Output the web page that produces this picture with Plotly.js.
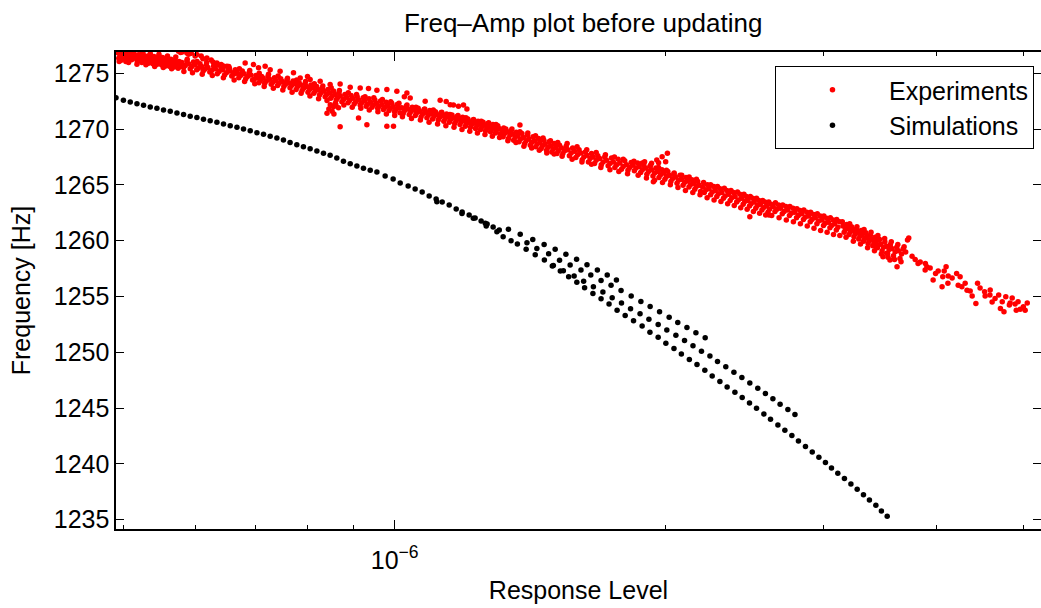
<!DOCTYPE html>
<html>
<head>
<meta charset="utf-8">
<script src="https://cdn.plot.ly/plotly-3.0.1.min.js"></script>
<style>html,body{margin:0;padding:0;background:#fff;}</style>
</head>
<body>
<div id="chart" style="width:1041px;height:608px;"></div>
<script>
// Response level values are given in units of 1e-6.
const UNIT = 1e-6;

const expX = [
  0.492,0.4935,0.495,0.4965,0.498,0.4995,0.501,0.5025,0.504,0.5055,
  0.507,0.5085,0.510,0.5115,0.513,0.5145,0.516,0.5175,0.519,0.5205,
  0.522,0.5235,0.525,0.5265,0.528,0.5295,0.531,0.5325,0.534,0.5355,
  0.537,0.5385,0.540,0.5415,0.543,0.5445,0.546,0.5475,0.549,0.5505,
  0.552,0.5535,0.555,0.5565,0.558,0.5595,0.561,0.5625,0.564,0.5655,
  0.567,0.5685,0.570,0.5715,0.573,0.5745,0.576,0.5775,
  0.575,0.5805,0.5875,0.594,0.6027,0.6094,0.6183,0.6252,0.6344,0.6414,
  0.6509,0.6619,0.6734,0.578,0.590,0.600,0.612,0.628,0.645,0.655,0.668,
  0.580,0.5825,0.585,0.5875,0.590,0.5925,0.595,0.5975,0.600,0.6025,
  0.605,0.6075,0.610,0.6125,0.615,0.6175,0.620,0.623,0.626,0.629,
  0.632,0.635,0.638,0.641,0.644,0.647,0.650,0.653,0.656,0.659,
  0.662,0.665,0.668,0.671,0.674,0.677,0.680,0.683,0.686,0.689,
  0.692,0.695,0.698,0.701,0.704,0.7065,0.709,0.7115,
  0.6820,0.6967,0.7057,0.7178,0.7271,0.7458,0.7718,0.7852,0.8054,0.8264,
  0.8477,0.8697,0.8924,0.9155,0.9352,0.9555,0.9802,1.0056,1.0318,1.0405,
  1.0812,1.1234,1.1527,1.1774,1.2031,1.1623,1.1926,1.1409,0.800,1.025,
  0.714,0.717,0.720,0.723,0.726,0.729,0.732,0.735,0.738,0.741,
  0.744,0.747,0.750,0.753,0.756,0.759,0.762,0.765,0.768,0.771,
  0.774,0.777,0.780,0.783,0.786,0.789,0.792,0.795,0.798,0.801,
  0.804,0.807,0.810,0.813,0.816,0.819,0.822,0.825,0.828,0.831,
  0.834,0.837,0.840,0.843,0.846,0.849,0.852,0.855,0.858,0.861,
  0.864,0.867,0.870,0.8735,0.877,0.8805,0.884,0.8875,0.891,0.8945,
  0.898,0.9015,0.905,0.9085,0.912,0.9155,0.919,0.9225,0.926,0.9295,
  0.933,0.9365,0.940,0.9435,0.947,0.9505,0.954,0.9575,0.961,0.9645,
  0.968,0.9715,0.975,0.9785,0.982,0.9855,0.989,0.9925,0.996,0.9995,
  1.003,1.0065,1.010,1.0135,
  0.8409,0.8551,0.8697,0.9116,0.9313,0.9802,0.9969,0.848,0.845,0.852,0.860,0.866,0.856,
  1.018,1.022,1.026,1.030,1.034,1.038,1.042,1.046,1.050,1.054,
  1.058,1.062,1.066,1.070,1.074,1.078,1.082,1.086,1.090,1.094,
  1.098,1.102,1.106,1.110,1.114,1.118,1.122,1.126,1.130,1.134,
  1.138,1.142,1.146,1.150,1.154,1.158,1.162,1.166,1.170,1.174,
  1.178,1.182,1.186,1.190,1.194,1.198,1.202,1.206,1.210,1.214,
  1.218,1.222,1.226,1.230,1.234,1.238,1.242,1.246,1.250,1.254,
  1.258,1.262,1.266,1.270,1.274,1.278,1.282,1.286,1.290,1.294,
  1.298,1.302,1.306,1.310,
  1.316,1.320,1.325,1.329,1.334,1.338,1.343,1.347,1.352,1.356,
  1.361,1.365,1.370,1.375,1.380,1.385,1.390,1.395,1.400,1.405,
  1.410,1.415,1.420,1.425,1.430,1.435,1.440,1.445,1.450,1.455,
  1.460,1.465,1.470,1.475,1.480,1.485,1.490,1.495,1.500,1.505,
  1.510,1.515,1.520,1.525,1.378,
  1.532,1.538,1.545,1.551,1.558,1.564,1.571,1.577,1.584,1.590,
  1.597,1.603,1.610,1.616,1.623,1.629,1.636,1.642,1.649,1.655,
  1.662,1.668,1.675,1.682,1.690,1.697,1.705,1.712,1.720,1.727,
  1.735,1.742,1.750,1.757,1.765,1.772,1.780,1.787,1.795,1.802,
  1.810,1.817,1.825,1.832,
  1.840,1.847,1.855,1.862,1.870,1.877,1.885,1.892,1.900,1.907,
  1.915,1.922,1.930,1.937,1.945,1.952,1.960,1.967,1.975,1.982,
  1.990,1.997,2.005,2.012,2.020,2.028,2.036,2.044,2.052,2.060,
  2.068,2.076,2.084,2.092,2.100,2.108,2.116,2.124,2.132,2.140,
  2.148,2.156,2.164,2.172,2.180,2.188,
  1.896,1.930,1.956,1.983,2.010,2.001,1.965,1.939,
  2.200,2.209,2.218,2.227,2.236,2.245,2.254,2.263,2.272,2.281,
  2.290,2.300,2.310,2.320,2.330,2.340,2.350,2.360,2.370,2.380,
  2.390,2.400,2.410,2.420,2.430,2.440,2.450,2.460,2.470,2.480,
  2.490,2.500,2.510,2.520,2.530,2.540,2.550,2.560,2.570,2.580,
  2.590,2.600,2.610,2.620,2.482,2.607,
  2.635,2.647,2.660,2.672,2.685,2.697,2.710,2.722,2.735,2.747,
  2.760,2.772,2.785,2.797,2.810,2.822,2.835,2.847,2.860,2.872,
  2.885,2.897,2.910,2.922,2.935,2.947,2.960,2.972,2.985,2.997,
  3.010,3.022,3.035,3.047,3.060,3.072,3.085,3.097,3.110,3.122,
  3.150,3.160,3.170,3.180,3.190,3.200,3.210,3.220,3.230,3.240,
  3.250,3.260,3.270,3.280,3.290,3.300,3.310,3.320,3.330,3.340,
  3.350,3.360,3.370,3.380,3.390,3.400,3.410,3.420,3.430,3.440,
  3.450,3.460,3.470,3.482,3.495,3.507,3.520,3.532,3.545,3.557,
  3.570,3.585,3.600,3.615,3.630,3.645,3.660,3.675,
  3.684,3.716,3.699,3.618,3.553,3.523,3.490,3.428,3.368,3.307,3.728,
  3.818,3.905,3.890,3.993,4.067,4.102,4.121,4.060,4.214,4.252,
  4.271,4.328,4.446,4.527,4.589,4.427,4.650,4.693,4.736,4.779,
  4.714,4.823,4.932,4.909,4.999,5.022,4.757,
  3.938,4.020,3.968,4.166,4.231,4.307,4.363,4.385,4.475,4.533,
  4.615,4.858,4.895,4.959,5.049,4.833,4.592,4.124,4.082,3.839,3.888,
  3.760,3.790,
  0.494,0.500,0.506,0.511,0.517,0.523,0.529,0.535,0.541,0.547,0.553,0.559,0.565,0.571,
  0.583,0.588,0.596,0.603,0.611,0.618,0.627,0.636,0.645,0.654,0.663,0.672,0.681,0.690,0.699,0.707,
  0.716,0.724,0.733,0.742,0.751,0.760,0.769,0.778,0.787,0.796,
  0.805,0.814,0.823,0.832,0.841,0.850,0.859,0.868,0.878,0.888,
  0.897,0.907,0.917,0.927,0.937,0.948,0.958,0.969,0.979,0.990,1.000,1.011,
  1.020,1.032,1.044,1.056,1.068,1.080,1.092,1.104,1.116,1.128,
  1.140,1.152,1.164,1.176,1.188,1.200,1.212,1.224,1.236,1.248,
  1.260,1.272,1.284,1.296,1.308,
  1.322,1.336,1.350,1.364,1.378,1.392,1.406,1.420,1.434,1.448,1.462,1.476,1.490,1.504,1.518,
  1.535,1.555,1.575,1.595,1.615,1.635,1.655,1.675,1.695,1.715,1.735,1.755,1.775,1.795,1.815,
  1.845,1.865,1.885,1.905,1.925,1.945,1.965,1.985,2.005,2.025,
  2.045,2.065,2.085,2.105,2.125,2.145,2.165,2.185,
  2.205,2.225,2.245,2.265,2.285,2.305,2.325,2.345,2.365,2.385,
  2.405,2.425,2.445,2.465,2.485,2.505,2.525,2.545,2.565,2.585,2.605,
  2.625,2.650,2.675,2.700,2.725,2.750,2.775,2.800,2.825,2.850,
  2.875,2.900,2.925,2.950,2.975,3.000,3.025,3.050,3.075,3.100,3.125,
  3.145,3.175,3.205,3.235,3.265,3.295,3.325,3.355,3.385,3.415,
  3.445,3.475,3.505,3.535,3.565,3.595,3.625,3.655
];

const expY = [
  1276.85,1276.35,1276.60,1276.15,1276.80,1276.40,1276.50,1276.05,1276.70,1276.25,
  1276.45,1276.85,1276.20,1276.60,1276.75,1276.35,1276.50,1276.05,1276.65,1276.20,
  1276.40,1275.95,1276.80,1276.25,1276.55,1276.10,1276.30,1275.90,1276.60,1276.15,
  1276.35,1275.85,1276.50,1276.05,1276.25,1275.80,1276.45,1275.95,1276.15,1275.75,
  1276.40,1275.90,1276.10,1275.65,1276.30,1275.85,1276.05,1275.60,1276.25,1275.75,
  1275.95,1275.55,1276.15,1275.70,1275.90,1275.45,1276.05,1275.60,
  1276.97,1276.91,1276.82,1276.78,1276.67,1276.55,1276.37,1276.19,1275.92,1275.79,
  1275.63,1275.03,1274.87,1276.85,1276.70,1276.55,1276.30,1276.00,1275.65,1275.45,1275.00,
  1275.95,1275.50,1275.70,1276.10,1275.85,1275.40,1275.60,1276.00,1275.75,1275.30,
  1275.45,1275.85,1275.60,1275.20,1275.35,1275.75,1275.50,1275.10,1275.25,1275.65,
  1275.40,1274.95,1275.15,1275.50,1275.30,1274.85,1275.05,1275.40,1275.20,1274.75,
  1274.90,1275.30,1275.05,1274.60,1274.80,1275.20,1274.95,1274.50,1274.70,1275.05,
  1274.85,1274.40,1274.45,1274.80,1274.60,1274.15,1274.35,1274.70,
  1275.92,1275.77,1275.48,1275.63,1275.32,1275.18,1275.03,1274.58,1274.43,1274.28,
  1273.98,1274.04,1273.74,1273.68,1273.62,1273.48,1273.53,1273.39,1273.23,1272.78,
  1272.49,1272.58,1272.18,1272.04,1271.80,1272.16,1272.16,1272.47,1274.70,1272.89,
  1274.55,1274.10,1274.30,1274.70,1274.45,1274.00,1274.20,1274.60,1274.35,1273.90,
  1274.10,1274.50,1274.25,1273.80,1274.00,1274.40,1274.15,1273.70,1273.90,1274.30,
  1274.05,1273.55,1273.80,1274.15,1273.95,1273.45,1273.65,1274.05,1273.80,1273.30,
  1273.55,1273.95,1273.70,1273.20,1273.40,1273.80,1273.55,1273.05,1273.25,1273.65,
  1273.40,1272.90,1273.10,1273.55,1273.25,1272.75,1272.95,1273.40,1273.10,1272.60,
  1272.80,1273.25,1272.95,1272.45,1272.65,1273.10,1272.85,1272.35,1272.55,1273.00,
  1272.75,1272.25,1272.45,1272.90,1272.60,1272.15,1272.35,1272.80,1272.50,1272.05,
  1272.25,1272.70,1272.40,1271.95,1272.15,1272.60,1272.30,1271.85,1272.05,1272.50,
  1272.20,1271.75,1271.95,1272.40,1272.10,1271.65,1271.85,1272.30,1272.00,1271.55,
  1271.75,1272.20,1271.90,1271.45,
  1271.41,1272.00,1270.21,1270.99,1270.39,1270.25,1270.25,1272.18,1271.80,1271.60,1272.20,1271.90,1271.35,
  1271.90,1271.40,1271.65,1272.05,1271.80,1271.30,1271.55,1271.95,1271.70,1271.20,
  1271.45,1271.85,1271.60,1271.10,1271.35,1271.75,1271.50,1271.00,1271.25,1271.65,
  1271.40,1270.90,1271.15,1271.55,1271.30,1270.80,1271.05,1271.45,1271.20,1270.70,
  1270.95,1271.35,1271.10,1270.60,1270.85,1271.25,1271.00,1270.50,1270.75,1271.15,
  1270.90,1270.40,1270.65,1271.05,1270.75,1270.25,1270.50,1270.90,1270.65,1270.15,
  1270.40,1270.80,1270.55,1270.05,1270.30,1270.70,1270.45,1269.95,1270.20,1270.60,
  1270.35,1269.85,1270.10,1270.50,1270.25,1269.75,1270.00,1270.40,1270.15,1269.65,
  1269.90,1270.30,1270.05,1269.55,
  1269.85,1269.30,1269.60,1270.00,1269.75,1269.15,1269.45,1269.85,1269.55,1269.00,
  1269.25,1269.70,1269.40,1268.85,1269.10,1269.60,1269.25,1268.70,1268.95,1269.45,
  1269.10,1268.55,1268.80,1269.30,1268.95,1268.40,1268.65,1269.15,1268.80,1268.25,
  1268.50,1269.00,1268.65,1268.10,1268.35,1268.85,1268.50,1267.95,1268.20,1268.70,
  1268.35,1267.80,1268.05,1268.55,1270.36,
  1268.30,1267.80,1268.05,1268.45,1268.15,1267.60,1267.85,1268.30,1268.00,1267.45,
  1267.70,1268.15,1267.85,1267.25,1267.50,1267.95,1267.65,1267.05,1267.35,1267.80,
  1267.50,1266.90,1267.20,1267.60,1267.35,1266.80,1267.05,1267.50,1267.20,1266.70,
  1266.90,1267.40,1267.05,1266.55,1266.80,1267.30,1266.95,1266.40,1266.65,1267.15,
  1266.80,1266.30,1266.55,1267.00,
  1266.75,1266.25,1266.50,1266.95,1266.65,1266.10,1266.35,1266.80,1266.50,1265.95,
  1266.20,1266.65,1266.35,1265.80,1266.05,1266.50,1266.20,1265.65,1265.90,1266.35,
  1266.05,1265.50,1265.75,1266.20,1265.85,1265.30,1265.55,1266.00,1265.70,1265.15,
  1265.40,1265.85,1265.50,1264.95,1265.20,1265.65,1265.35,1264.80,1265.00,1265.45,
  1265.15,1264.60,1264.85,1265.30,1264.95,1264.40,
  1267.07,1266.93,1267.22,1267.52,1267.82,1267.07,1266.98,1265.28,
  1264.80,1264.30,1264.55,1265.00,1264.65,1264.10,1264.35,1264.85,1264.50,1263.95,
  1264.20,1264.65,1264.30,1263.80,1264.00,1264.50,1264.15,1263.60,1263.85,1264.30,
  1263.95,1263.45,1263.65,1264.15,1263.80,1263.25,1263.50,1263.95,1263.60,1263.10,
  1263.30,1263.80,1263.45,1262.90,1263.15,1263.60,1263.25,1262.75,1262.95,1263.45,
  1263.10,1262.55,1262.80,1263.25,1262.14,1262.29,
  1263.05,1262.60,1262.80,1263.20,1262.90,1262.40,1262.60,1263.05,1262.75,1262.25,
  1262.45,1262.90,1262.55,1262.05,1262.25,1262.70,1262.40,1261.90,1262.10,1262.55,
  1262.20,1261.70,1261.90,1262.35,1262.05,1261.50,1261.75,1262.20,1261.85,1261.35,
  1261.55,1262.00,1261.65,1261.15,1261.35,1261.85,1261.50,1260.95,1261.20,1261.70,
  1261.30,1260.75,1261.00,1261.45,1261.10,1260.55,1260.80,1261.25,1260.95,1260.35,
  1260.60,1261.05,1260.75,1260.15,1260.40,1260.90,1260.55,1259.95,1260.20,1260.70,
  1260.35,1259.75,1260.00,1260.50,1260.15,1259.55,1259.80,1260.30,1259.95,1259.35,
  1259.60,1260.10,1259.70,1259.10,1259.40,1259.90,1259.50,1258.85,1259.20,1259.65,
  1259.30,1258.65,1259.00,1259.40,1259.10,1258.40,1258.80,1259.25,
  1259.45,1260.05,1258.99,1257.65,1258.26,1258.86,1258.55,1259.45,1260.05,1260.65,1260.23,
  1257.96,1257.65,1257.96,1257.06,1256.76,1257.65,1256.17,1255.86,1257.06,1256.76,
  1255.86,1255.56,1256.17,1255.41,1255.12,1254.37,1254.82,1255.12,1254.52,1254.97,
  1253.92,1254.22,1254.52,1253.77,1254.07,1253.77,1253.62,
  1257.54,1257.27,1256.46,1256.64,1256.01,1256.19,1255.48,1255.04,1255.75,1255.04,
  1254.49,1254.85,1254.31,1253.86,1254.40,1254.40,1255.57,1256.82,1257.27,1258.08,1257.36,
  1258.60,1258.30,
  1276.05,1276.90,1275.95,1276.90,1275.80,1276.70,1275.75,1276.75,1275.60,1276.70,1275.50,1276.55,1275.40,1276.45,
  1275.15,1276.25,1275.05,1276.05,1274.90,1275.95,1274.80,1275.75,1274.60,1275.60,1274.40,1275.40,1274.25,1275.25,1274.05,1275.00,
  1273.80,1274.90,1273.65,1274.75,1273.50,1274.55,1273.30,1274.40,1273.20,1274.25,
  1272.95,1274.05,1272.70,1273.85,1272.55,1273.70,1272.30,1273.45,1272.15,1273.25,
  1271.95,1273.10,1271.85,1272.90,1271.70,1272.80,1271.55,1272.65,1271.35,1272.45,1271.20,1272.30,
  1271.10,1272.15,1270.95,1271.95,1270.80,1271.80,1270.60,1271.70,1270.45,1271.50,
  1270.30,1271.30,1270.15,1271.20,1269.95,1271.00,1269.80,1270.85,1269.65,1270.70,
  1269.50,1270.55,1269.35,1270.40,1269.25,
  1270.10,1268.95,1270.00,1268.80,1269.75,1268.45,1269.65,1268.30,1269.40,1268.10,1269.20,1267.85,1268.95,1267.75,1268.80,
  1267.55,1268.70,1267.30,1268.40,1267.05,1268.15,1266.85,1267.90,1266.55,1267.70,1266.35,1267.50,1266.20,1267.30,1266.00,
  1267.10,1265.85,1266.95,1265.60,1266.75,1265.40,1266.55,1265.20,1266.30,1265.00,
  1266.05,1264.75,1265.85,1264.50,1265.70,1264.30,1265.50,1264.10,
  1265.20,1263.85,1265.00,1263.65,1264.85,1263.50,1264.70,1263.30,1264.50,1263.15,
  1264.35,1262.95,1264.15,1262.80,1263.95,1262.60,1263.80,1262.45,1263.60,1262.30,1263.45,
  1262.25,1263.40,1262.05,1263.20,1261.85,1263.05,1261.70,1262.85,1261.50,1262.75,
  1261.30,1262.55,1261.10,1262.40,1260.90,1262.20,1260.75,1262.05,1260.55,1261.90,1260.45,
  1261.70,1260.30,1261.50,1259.95,1261.25,1259.70,1261.00,1259.35,1260.75,1259.10,
  1260.45,1258.80,1260.20,1258.50,1259.90,1258.30,1259.65,1258.10
];

const simX = [
  0.490,0.4994,0.5082,0.5170,0.5258,0.5349,0.5441,0.5534,0.5630,0.5727,
  0.5825,0.5925,0.6027,0.6130,0.6236,0.6344,0.6452,0.6564,0.6678,0.6791,
  0.6909,0.7028,0.7148,0.7271,0.7397,0.7522,0.7651,0.7784,0.7917,0.8054,
  0.8194,0.8334,0.8477,0.8623,0.8771,0.8924,0.9078,0.9232,0.9393,0.9555,
  0.9759,0.9961,1.0142,1.0351,1.0538,1.0729,1.0923,1.1119,1.1293,1.1497,
  1.1705,1.1885,1.2100,1.2286,1.2477,1.2670,1.2866,1.3070,
  1.320,1.347,1.299,1.264,1.114,1.188,1.223,1.261,
  1.338,1.379,1.424,1.466,1.508,1.550,1.593,1.636,1.680,1.723,1.764,
  1.403,1.439,1.483,1.525,1.567,1.611,1.652,1.696,1.740,1.785,
  1.832,1.878,1.923,1.970,2.019,2.064,2.113,2.162,2.214,
  1.369,1.400,1.433,1.467,1.501,1.540,1.583,1.622,1.663,1.704,
  1.745,1.787,1.829,1.874,1.917,1.963,2.007,2.054,2.100,2.146,
  2.193,2.241,2.285,2.334,2.383,2.432,2.482,2.533,2.583,2.633,
  2.682,2.736,2.786,
  1.497,1.528,1.561,1.594,1.626,1.661,1.696,1.731,1.767,1.804,
  1.843,1.884,1.922,1.963,2.002,2.044,2.083,2.126,2.168,2.212,
  2.254,2.299,2.342,2.389,2.434,2.480,2.525,2.573,2.617,2.667,
  2.715,2.764,2.811,2.862,2.912,2.962,3.012,3.059,3.109,3.162,
  3.215,3.267,3.320,3.371,3.427,3.476,3.528
];

const simY = [
  1272.79,1272.58,1272.43,1272.27,1272.13,1271.98,1271.86,1271.71,1271.59,1271.44,
  1271.29,1271.14,1271.02,1270.87,1270.75,1270.61,1270.45,1270.30,1270.16,1270.00,
  1269.85,1269.67,1269.53,1269.35,1269.20,1269.02,1268.78,1268.60,1268.42,1268.24,
  1268.03,1267.83,1267.65,1267.40,1267.11,1266.89,1266.69,1266.48,1266.30,1266.15,
  1265.79,1265.52,1265.16,1264.89,1264.62,1264.35,1264.00,1263.73,1263.46,1263.19,
  1262.83,1262.56,1262.29,1262.02,1261.75,1261.48,1261.22,1260.95,
  1260.35,1259.99,1260.79,1261.31,1263.48,1262.44,1262.00,1261.55,
  1261.01,1260.56,1260.11,1259.66,1259.22,1258.77,1258.32,1257.83,1257.36,1256.91,1256.46,
  1259.81,1259.30,1258.82,1258.23,1257.81,1257.36,1256.91,1256.43,1255.99,1255.54,
  1255.03,1254.55,1254.10,1253.62,1253.14,1252.67,1252.22,1251.74,1251.29,
  1259.69,1259.22,1258.73,1258.26,1257.78,1257.30,1256.82,1256.35,1255.86,1255.39,
  1254.87,1254.40,1253.89,1253.44,1252.96,1252.49,1251.98,1251.53,1251.05,1250.57,
  1250.09,1249.65,1249.17,1248.69,1248.21,1247.74,1247.25,1246.78,1246.30,1245.82,
  1245.34,1244.87,1244.42,
  1257.72,1257.27,1256.76,1256.28,1255.77,1255.27,1254.78,1254.31,1253.77,1253.30,
  1252.81,1252.34,1251.80,1251.35,1250.81,1250.34,1249.83,1249.35,1248.90,1248.39,
  1247.88,1247.38,1246.89,1246.42,1245.94,1245.46,1244.98,1244.47,1244.00,1243.48,
  1243.01,1242.53,1242.05,1241.55,1241.06,1240.59,1240.11,1239.63,1239.15,1238.68,
  1238.19,1237.72,1237.24,1236.76,1236.28,1235.77,1235.30
];

const seriesNames = ['Experiments', 'Simulations'];
const yTickVals = [1235, 1240, 1245, 1250, 1255, 1260, 1265, 1270, 1275];
const xMajorTicks = [1e-6];
const xMajorLabels = ['10<sup>\u22126</sup>'];
const xMinorTicks = [0.5e-6, 0.6e-6, 0.7e-6, 0.8e-6, 0.9e-6, 2e-6, 3e-6, 4e-6, 5e-6];
const xLimits = [0.490e-6, 5.23e-6];
const yLimits = [1234.16, 1276.9];

const FONT = 'Liberation Sans, Arial, Helvetica, sans-serif';
const FS = 25;

const traces = [
  {
    x: expX.map(v => v * UNIT), y: expY, name: seriesNames[0],
    type: 'scatter', mode: 'markers',
    marker: {color: '#ff0000', size: 5.5, line: {width: 0}}
  },
  {
    x: simX.map(v => v * UNIT), y: simY, name: seriesNames[1],
    type: 'scatter', mode: 'markers',
    marker: {color: '#000000', size: 5.5, line: {width: 0}}
  }
];

const axisCommon = {
  showline: true, linecolor: '#000', linewidth: 1.6, mirror: 'allticks',
  ticks: 'inside', tickcolor: '#000', tickwidth: 1,
  showgrid: false, zeroline: false,
  tickfont: {family: FONT, size: FS, color: '#000'}
};

const layout = {
  width: 1041, height: 608,
  margin: {l: 116, r: 0, t: 52, b: 79, pad: 0},
  paper_bgcolor: '#ffffff', plot_bgcolor: '#ffffff',
  font: {family: FONT, color: '#000'},
  title: {
    text: 'Freq\u2013Amp plot before updating',
    x: 0.505, xref: 'paper', xanchor: 'center',
    y: 1 - 23 / 608, yref: 'container', yanchor: 'middle',
    font: {family: FONT, size: 26, color: '#000'}
  },
  xaxis: Object.assign({}, axisCommon, {
    type: 'log',
    range: xLimits.map(v => Math.log10(v)),
    tickmode: 'array', tickvals: xMajorTicks, ticktext: xMajorLabels,
    ticklen: 9, ticklabelstandoff: 8,
    minor: {tickmode: 'array', tickvals: xMinorTicks, ticks: 'inside', ticklen: 4, tickcolor: '#000', tickwidth: 1, showgrid: false},
    title: {text: 'Response Level', font: {family: FONT, size: FS, color: '#000'}, standoff: 9}
  }),
  yaxis: Object.assign({}, axisCommon, {
    range: yLimits,
    tickmode: 'array', tickvals: yTickVals, ticklen: 8,
    title: {text: 'Frequency [Hz]', font: {family: FONT, size: FS, color: '#000'}, standoff: 16}
  }),
  showlegend: true,
  legend: {
    x: 0.9924, xanchor: 'right', xref: 'paper',
    y: 0.9706, yanchor: 'top', yref: 'paper',
    bgcolor: '#ffffff', bordercolor: '#000', borderwidth: 1,
    font: {family: FONT, size: FS, color: '#000'},
    itemwidth: 103, tracegroupgap: 0
  }
};

Plotly.newPlot('chart', traces, layout, {displayModeBar: false, staticPlot: true});
</script>
</body>
</html>
